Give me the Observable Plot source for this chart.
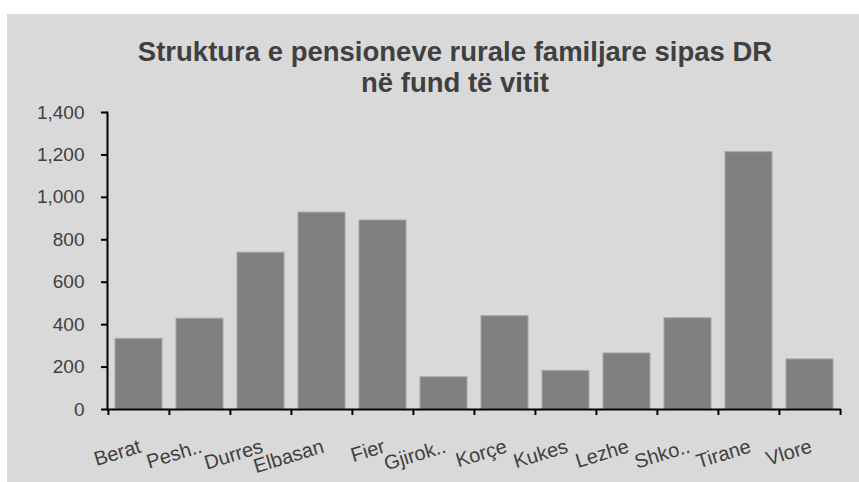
<!DOCTYPE html>
<html><head><meta charset="utf-8">
<script src="https://cdn.jsdelivr.net/npm/d3@7"></script>
<script src="https://cdn.jsdelivr.net/npm/@observablehq/plot@0.6"></script>
<style>
body{margin:0;background:#fff;font-family:"Liberation Sans",Arial,sans-serif;}
#panel{position:absolute;left:7px;top:14px;width:852px;height:468px;background:#d9d9d9;}
#title{position:absolute;left:0;width:910px;top:36px;text-align:center;font-weight:bold;font-size:27.5px;line-height:31px;color:#404040;}
#chart{position:absolute;left:0;top:100px;}
</style></head><body>
<div id="panel"></div>
<div id="title">Struktura e pensioneve rurale familjare sipas DR<br>në fund të vitit</div>
<div id="chart"></div>
<script>
const categories = ["Berat","Pesh..","Durres","Elbasan","Fier","Gjirok..","Korçe","Kukes","Lezhe","Shko..","Tirane","Vlore"];
const values = [333, 428, 739, 928, 891, 152, 440, 182, 264, 430, 1213, 236];
const yTicks = [0, 200, 400, 600, 800, 1000, 1200, 1400];

const W = 859, H = 382, ml = 107, mr = 18, mt = 12, mb = 73;
const step = (W - ml - mr) / categories.length;
const data = categories.map((c, i) => ({c, v: values[i]}));

const chart = Plot.plot({
  width: W, height: H, marginLeft: ml, marginRight: mr, marginTop: mt, marginBottom: mb,
  style: {background: "transparent", fontFamily: "Liberation Sans, Arial, sans-serif", overflow: "visible"},
  x: {domain: categories, paddingInner: 0.23, paddingOuter: 0.115, label: null},
  y: {domain: [0, 1400], label: null},
  marks: [
    Plot.barY(data, {x: "c", y: "v", fill: "#808080", stroke: "#a6a6a6", strokeWidth: 1}),
    Plot.axisY(yTicks, {tickSize: 6, stroke: "black", strokeWidth: 2, text: null, label: null}),
    Plot.axisY(yTicks, {tickSize: 0, tickPadding: 23, tickFormat: d3.format(","), fontSize: 19, fill: "#404040", label: null}),
    Plot.axisX({tickSize: 6, stroke: "black", strokeWidth: 2, text: null, dx: -step / 2, label: null}),
    Plot.axisX([categories[categories.length - 1]], {tickSize: 6, stroke: "black", strokeWidth: 2, text: null, dx: step / 2, label: null}),
    Plot.axisX({tickSize: 0, tickPadding: 29, tickRotate: -17, textAnchor: "end", lineAnchor: "top", fontSize: 20, dx: -1, fill: "#404040", label: null}),
    Plot.frame({anchor: "left", stroke: "black", strokeWidth: 2}),
    Plot.ruleY([0], {stroke: "black", strokeWidth: 2})
  ]
});
document.getElementById("chart").appendChild(chart);
</script>
</body></html>
